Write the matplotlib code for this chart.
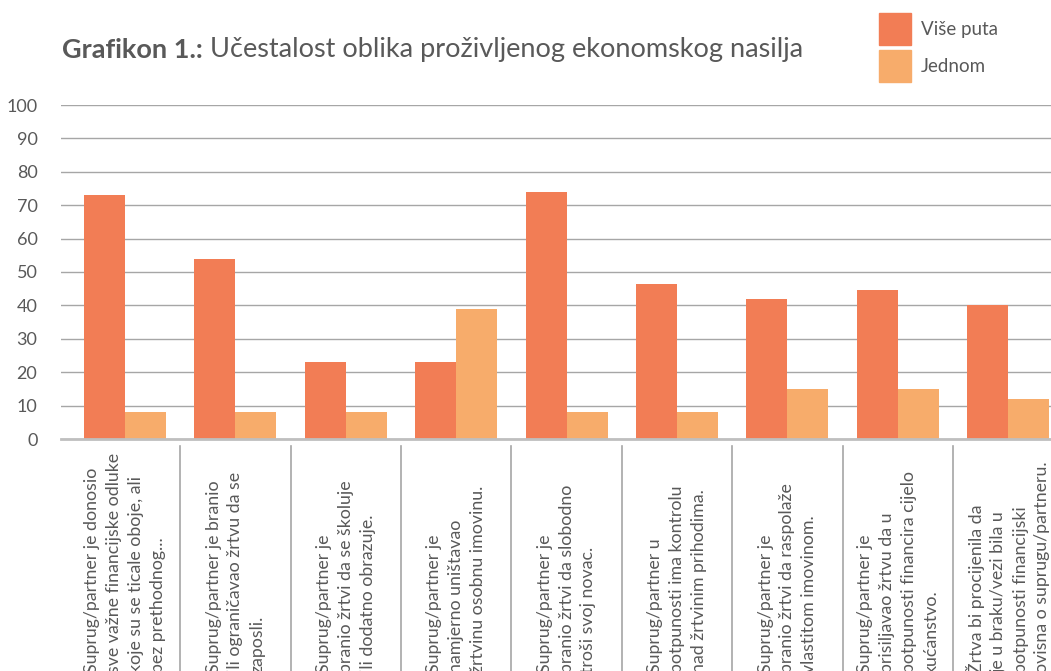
import matplotlib
matplotlib.use("Agg")
import matplotlib.pyplot as plt
from matplotlib.patches import Rectangle
import numpy as np

plt.rcParams['font.family'] = ['Lato', 'DejaVu Sans']

categories = [
    "Suprug/partner je donosio\nsve važne financijske odluke\nkoje su se ticale oboje, ali\nbez prethodnog...",
    "Suprug/partner je branio\nili ograničavao žrtvu da se\nzaposli.",
    "Suprug/partner je\nbranio žrtvi da se školuje\nili dodatno obrazuje.",
    "Suprug/partner je\nnamjerno uništavao\nžrtvinu osobnu imovinu.",
    "Suprug/partner je\nbranio žrtvi da slobodno\ntroši svoj novac.",
    "Suprug/partner u\npotpunosti ima kontrolu\nnad žrtvinim prihodima.",
    "Suprug/partner je\nbranio žrtvi da raspolaže\nvlastitom imovinom.",
    "Suprug/partner je\nprisiljavao žrtvu da u\npotpunosti financira cijelo\nkućanstvo.",
    "Žrtva bi procijenila da\nje u braku/vezi bila u\npotpunosti financijski\novisna o suprugu/partneru.",
]
series_names = ["Više puta", "Jednom"]
vise_puta = [73, 54, 23, 23, 74, 46.5, 42, 44.5, 40]
jednom = [8, 8, 8, 39, 8, 8, 15, 15, 12]
colors = ["#F27D55", "#F7AC6B"]
yticks = [0, 10, 20, 30, 40, 50, 60, 70, 80, 90, 100]

W, H = 1051, 671
fig = plt.figure(figsize=(W / 100, H / 100), dpi=100)
ax = fig.add_axes([61 / W, (H - 439) / H, (W - 61) / W, 334 / H])

x = np.arange(len(categories))
bw = 0.372
ax.bar(x - bw / 2, vise_puta, bw, color=colors[0], zorder=2)
ax.bar(x + bw / 2, jednom, bw, color=colors[1], zorder=2)

ax.set_xlim((61 - 125) / 110.4, (W - 125) / 110.4)
ax.set_ylim(0, 100)
ax.set_yticks(yticks)
ax.yaxis.grid(True, color="#a6a6a6", lw=1)
ax.set_axisbelow(True)
for s in ["top", "right", "left"]:
    ax.spines[s].set_visible(False)
ax.spines["bottom"].set_color("#bfbfbf")
ax.spines["bottom"].set_linewidth(2)
ax.set_xticks([])
ax.tick_params(axis="y", length=0, pad=17, labelsize=13, labelcolor="#595959")

# category labels, rotated, anchored at a common start below the figure
tr = ax.get_xaxis_transform()
for i, lab in enumerate(categories):
    ax.text(i, (439 - 673) / 334, lab, transform=tr, rotation=90,
            ha="center", va="bottom", multialignment="left",
            fontsize=12.8, color="#595959", linespacing=1.45, clip_on=False)
# separators between categories
for i in range(len(categories)):
    ax.plot([i + 0.5, i + 0.5], [-0.022, -1.0], transform=tr,
            color="#a6a6a6", lw=1.2, clip_on=False)

# title
t1 = fig.text(62 / W, 1 - 50 / H, "Grafikon 1.:", fontsize=19.5,
              weight="bold", color="#595959", va="center")
fig.canvas.draw()
bb = t1.get_window_extent(fig.canvas.get_renderer())
fig.text(bb.x1 / W, 1 - 50 / H, " Učestalost oblika proživljenog ekonomskog nasilja",
         fontsize=19.5, color="#595959", va="center")

# legend
for k, name in enumerate(series_names):
    y0 = 13 + k * 37
    fig.add_artist(Rectangle((879 / W, 1 - (y0 + 32) / H), 32 / W, 32 / H,
                             transform=fig.transFigure, color=colors[k]))
    fig.text(921 / W, 1 - (y0 + 17) / H, name, fontsize=13.5,
             color="#595959", va="center")

fig.savefig("out.png", dpi=100)
